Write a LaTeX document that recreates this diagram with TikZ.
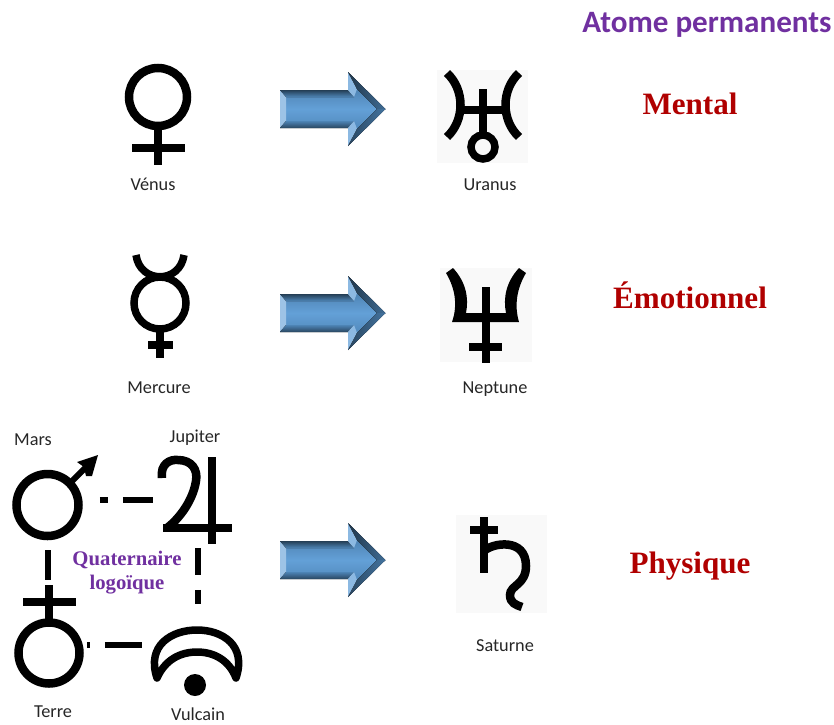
\documentclass[tikz,border=0pt]{standalone}
\usepackage{fontspec}
\setmainfont{Carlito}
\newfontfamily\serifbold[BoldFont={Liberation Serif Bold}]{Liberation Serif}
\definecolor{titlepurple}{HTML}{7030A0}
\definecolor{levelred}{HTML}{B00000}
\definecolor{arrowblue}{HTML}{5B9BD5}
\tikzstyle{symbolbox}=[rectangle,inner sep=0pt,outer sep=0pt]
\tikzstyle{greybox}=[symbolbox,fill=black!2.5]
\tikzstyle{planet}=[inner sep=0pt,text=black!85,font=\fontsize{10.4pt}{12pt}\selectfont]
\tikzstyle{level}=[inner sep=0pt,text=levelred,font=\fontsize{17.7pt}{20pt}\serifbold\bfseries]
\tikzstyle{quaternaire}=[inner sep=0pt,text=titlepurple,font=\fontsize{11.8pt}{14pt}\serifbold\bfseries]
\tikzstyle{link}=[line width=6*0.02cm]
\tikzstyle{thin glyph}=[line width=6.5*0.02cm]
\tikzstyle{glyph}=[line width=7.5*0.02cm]
\tikzstyle{thick glyph}=[line width=8.5*0.02cm]
\tikzset{bevelarrow/.pic={
    \fill[top color=arrowblue!80!black,bottom color=arrowblue!85!black,middle color=arrowblue!95!white] (6,-12) -- (72,-12) -- (72,-25) -- (97,0) -- (72,25) -- (72,12) -- (6,12) -- cycle;
    \fill[arrowblue!60!white] (0,-19) -- (6,-12) -- (6,12) -- (0,19) -- cycle;
    \fill[top color=arrowblue!40!black,bottom color=arrowblue!85!black] (0,-19) -- (68,-19) -- (74,-12) -- (6,-12) -- cycle;
    \fill[top color=arrowblue!85!black,bottom color=arrowblue!45!black] (0,19) -- (68,19) -- (74,12) -- (6,12) -- cycle;
    \fill[arrowblue!70!white] (68,-37) -- (77,-20) -- (74,-12) -- (68,-19) -- cycle;
    \fill[arrowblue!70!white] (68,37) -- (77,20) -- (74,12) -- (68,19) -- cycle;
    \fill[left color=arrowblue!35!black,right color=arrowblue!70!black] (68,-37) -- (105.5,0) -- (97,0) -- (77,-20) -- cycle;
    \fill[left color=arrowblue!45!black,right color=arrowblue!75!black] (68,37) -- (105.5,0) -- (97,0) -- (77,20) -- cycle;
}}

\begin{document}
\begin{tikzpicture}[x=0.02cm,y=-0.02cm]
    \useasboundingbox (0,0) rectangle (834,724);
    \node[inner sep=0pt,text=titlepurple,font=\fontsize{17.7pt}{22pt}\selectfont\bfseries] (title) at (707,25) {Atome permanents};
    % upper row
    \node[symbolbox,minimum width=1.3cm,minimum height=2.1cm] (venus) at (158,115) {};
    \draw[thick glyph] (158,97) circle (29);
    \draw[glyph] (158,126) -- (158,165);
    \draw[glyph] (132,148) -- (185,148);
    \node[planet] (nvenus) at (153,184) {Vénus};
    \pic at (280,109) {bevelarrow};
    \node[greybox,minimum width=1.82cm,minimum height=1.86cm] (uranus) at (482.5,116.5) {};
    \draw[thick glyph] (447,73) .. controls (465,90) and (465,120) .. (447,137);
    \draw[thick glyph] (519,73) .. controls (501,90) and (501,120) .. (519,137);
    \draw[thick glyph] (459,110) -- (507,110);
    \draw[thick glyph] (483,89) -- (483,135);
    \draw[glyph] (483,147) circle (12);
    \node[planet] (nuranus) at (490,185) {Uranus};
    \node[level] (mental) at (690,104) {Mental};
    % middle row
    \node[symbolbox,minimum width=1.3cm,minimum height=2.1cm] (mercure) at (160,305) {};
    \draw[glyph] (160,303) circle (26);
    \draw[glyph] (136,255) .. controls (140,284) and (180,284) .. (184,255);
    \draw[glyph] (160,330) -- (160,358);
    \draw[glyph] (148,345) -- (173,345);
    \node[planet] (nmercure) at (159,388) {Mercure};
    \pic at (280,313) {bevelarrow};
    \node[greybox,minimum width=1.84cm,minimum height=1.88cm] (neptune) at (486,315) {};
    \fill (446,273) -- (453,268) .. controls (466,282) and (469,298) .. (466,313) -- (506,313) .. controls (503,298) and (506,282) .. (519,268) -- (526,273) .. controls (517,288) and (514,305) .. (519,322) -- (452,322) .. controls (458,305) and (455,288) .. (446,273) -- cycle;
    \draw[thick glyph] (486,287) -- (486,363);
    \draw[thick glyph] (469,347) -- (502,347);
    \node[planet] (nneptune) at (495,389) {Neptune};
    \node[level] (emotionnel) at (690,295) {Émotionnel};
    % lower row, the four of the quaternary
    \node[symbolbox,minimum width=2.08cm,minimum height=2cm] (mars) at (48,500) {};
    \node[symbolbox,minimum width=1.8cm,minimum height=1.92cm] (jupiter) at (198,500) {};
    \node[symbolbox,minimum width=1.56cm,minimum height=2.6cm] (terre) at (48,645) {};
    \node[symbolbox,minimum width=2.24cm,minimum height=1.64cm] (vulcain) at (198,645) {};
    \draw[thick glyph] (47.5,505) circle (31);
    \draw[line width=6*0.02cm] (70,483) -- (88,465);
    \fill (98,455) -- (77,462) -- (84,467) -- (86,476) -- (92,476) -- cycle;
    \draw[glyph] (212,457) -- (212,544);
    \draw[glyph] (163,528) -- (232,528);
    \draw[thick glyph] (162,478) .. controls (160,464) and (170,459) .. (178,460) .. controls (192,460) and (198,470) .. (196,481) .. controls (193,500) and (180,518) .. (167,528);
    \draw[thick glyph] (49,653) circle (30.5);
    \draw[glyph] (49,585) -- (49,622);
    \draw[thick glyph] (23,602) -- (76,602);
    \draw[glyph,line cap=round,line join=round] (157,678) .. controls (146,645) and (172,630) .. (197,630) .. controls (222,630) and (247,645) .. (236,678) .. controls (229,660) and (214,652) .. (197,652) .. controls (180,652) and (165,660) .. (157,678) -- cycle;
    \fill (195,685) circle (11);
    \draw[link,dash pattern=on 0.16cm off 0.3cm on 0.6cm off 1cm] (mars) -- (jupiter);
    \draw[link] (mars) -- (terre);
    \draw[link,dash pattern=on 0.54cm off 0.3cm on 0.28cm off 1cm] (jupiter) -- (vulcain);
    \draw[link,dash pattern=on 0.06cm off 0.3cm on 0.74cm off 1cm] (terre) -- (vulcain);
    \node[planet] (nmars) at (33,440) {Mars};
    \node[planet] (njupiter) at (195,438) {Jupiter};
    \node[planet] (nterre) at (53,712) {Terre};
    \node[planet] (nvulcain) at (198,714) {Vulcain};
    \node[quaternaire] (quater) at (127,560) {Quaternaire};
    \node[quaternaire] (logo) at (127,585) {logoïque};
    \pic at (280,560) {bevelarrow};
    \node[greybox,minimum width=1.82cm,minimum height=1.96cm] (saturne) at (501.5,564) {};
    \draw[thick glyph] (484,517) -- (484,573);
    \draw[glyph] (470,530) -- (498,530);
    \draw[thick glyph] (484,551) .. controls (492,543) and (526,537) .. (526,566) .. controls (526,585) and (510,585) .. (510,595) .. controls (510,603) and (516,605) .. (522,607);
    \node[planet] (nsaturne) at (505,646) {Saturne};
    \node[level] (physique) at (690,566) {Physique};
\end{tikzpicture}
\end{document}
